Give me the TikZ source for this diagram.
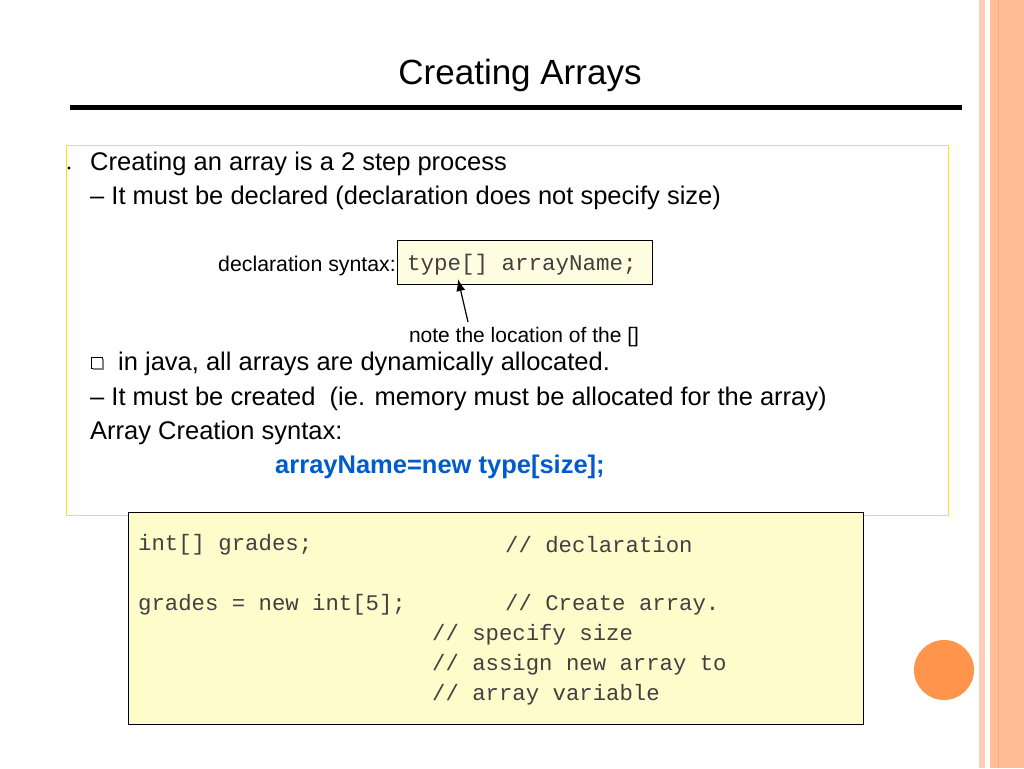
\documentclass[tikz,border=0pt]{standalone}
\usepackage{fontspec}
\usetikzlibrary{arrows.meta}
\setmainfont{Liberation Sans}
\setmonofont{Liberation Mono}
\begin{document}
\begin{tikzpicture}[x=1pt,y=-1pt,
  txt/.style={anchor=west,inner sep=0pt,font=\fontsize{25.5}{27}\selectfont},
  code/.style={anchor=west,inner sep=0pt,text=black!75,font=\ttfamily\fontsize{22.3}{24}\selectfont}]
\useasboundingbox (0,0) rectangle (1024,768);
\fill[white] (0,0) rectangle (1024,768);
\fill[orange!30!pink!60] (979,0) rectangle (985,768);
\fill[orange!45!pink!70] (990,0) rectangle (1024,768);
\draw[orange!70!brown!60] (998,0) -- (998,768);
\node (title) at (520,75) {\fontsize{35}{38}\selectfont Creating Arrays};
\draw[line width=5pt] (70,107) -- (962,107);
\draw[yellow!90!orange, line width=1pt] (66,145) rectangle (948,515);
\fill (69,168) circle (1.7);
\node[txt] (l1) at (90,164) {Creating an array is a 2 step process};
\node[txt] (l2) at (90,198) {-- It must be declared (declaration does not specify size)};
\node[anchor=east,inner sep=0pt,font=\fontsize{21.3}{23}\selectfont] (ds) at (396,266) {declaration syntax:};
\draw[fill=yellow!12] (397,240) rectangle (652,284);
\node[anchor=west,inner sep=0pt,text=black!75,font=\ttfamily\fontsize{22.5}{24}\selectfont] (tb) at (407,265) {type[] arrayName;};
\coordinate (tip) at (458,279);
\node[font=\fontsize{21}{23}\selectfont,inner sep=0pt] (note) at (524,337) {note the location of the []};
\draw[-{Latex[length=12pt,width=9pt]},line width=1.2pt] (468,322) -- (tip);
\draw[line width=1pt] (91,357) rectangle (102,368);
\fill[gray] (93,368) rectangle (104,370);
\fill[gray] (102,359) rectangle (104,370);
\node[txt] (l3) at (118,364) {in java, all arrays are dynamically allocated.};
\node[txt] (l4) at (90,399) {-- It must be created\ \ (ie. memory must be allocated for the array)};
\node[txt] (l5) at (90,433) {Array Creation syntax:};
\node[inner sep=0pt,font=\bfseries\fontsize{25.5}{27}\selectfont,text=blue!55!cyan!80!black] (syn) at (440,467) {arrayName=new type[size];};
\draw[fill=yellow!20] (128,512) rectangle (863,724);
\node[code] at (138,545) {int[] grades;};
\node[code] at (505,545) {// declaration};
\node[code] at (138,605) {grades = new int[5];};
\node[code] at (505,605) {// Create array.};
\node[code] at (432,635) {// specify size};
\node[code] at (432,665) {// assign new array to};
\node[code] at (432,695) {// array variable};
\fill[orange!80!red!70] (944,670) circle (30);
\end{tikzpicture}
\end{document}
